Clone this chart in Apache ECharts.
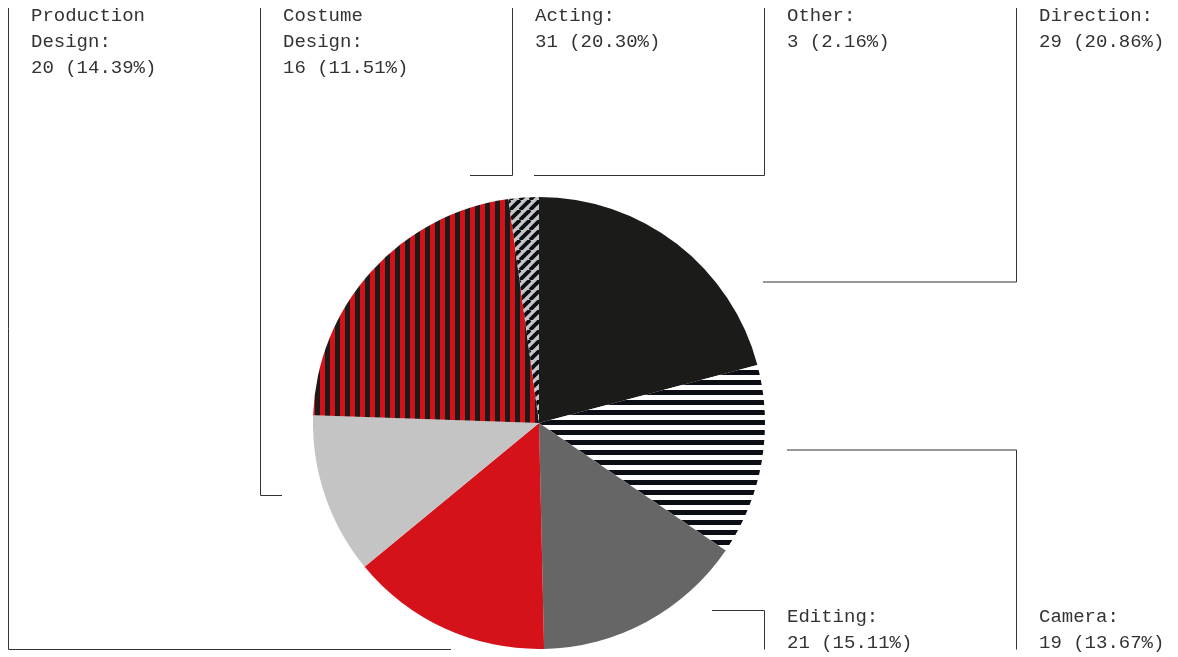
<!DOCTYPE html>
<html>
<head>
<meta charset="utf-8">
<script src="https://cdn.jsdelivr.net/npm/echarts@6/dist/echarts.min.js"></script>
<style>
  html, body { margin: 0; padding: 0; background: #fff; }
  #myChart { width: 1178px; height: 657px; }
</style>
</head>
<body>
<div id="myChart"></div>
<script>
// data, clockwise from 12 o'clock
var names = ["Direction", "Camera", "Editing", "Production Design", "Costume Design", "Acting", "Other"];
var values = [29, 19, 21, 20, 16, 31, 3];
// percent text as printed on the chart
var percentLabels = ["20.86%", "13.67%", "15.11%", "14.39%", "11.51%", "20.30%", "2.16%"];

// label slots: column in the grid, row (top/bottom), where the leader line ends near the pie
var slots = [
  { col: 4, row: "top", anchor: [763, 282] },
  { col: 4, row: "bottom", anchor: [787, 450] },
  { col: 3, row: "bottom", anchor: [712, 610.5] },
  { col: 0, row: "top", anchor: [451, 649.5] },
  { col: 1, row: "top", anchor: [282, 495.5] },
  { col: 2, row: "top", anchor: [470, 175.5] },
  { col: 3, row: "top", anchor: [534, 175.5] }
];

// stripe tiles
function tile(w, h, draw) {
  var c = document.createElement("canvas");
  c.width = w; c.height = h;
  draw(c.getContext("2d"), w, h);
  return { image: c, repeat: "repeat" };
}
var hStripes = tile(10, 10, function (ctx) {
  ctx.fillStyle = "#ffffff"; ctx.fillRect(0, 0, 10, 10);
  ctx.fillStyle = "#0c0e16"; ctx.fillRect(0, 0, 10, 5);
});
var vStripes = tile(10, 10, function (ctx) {
  ctx.fillStyle = "#1b1b19"; ctx.fillRect(0, 0, 10, 10);
  ctx.fillStyle = "#d5111a"; ctx.fillRect(0, 0, 5, 10);
});
var dStripes = tile(10, 10, function (ctx, s) {
  ctx.fillStyle = "#c6c6c6"; ctx.fillRect(0, 0, s, s);
  ctx.strokeStyle = "#0c0e16"; ctx.lineWidth = 3.8;
  for (var k = -1; k <= 1; k++) {
    ctx.beginPath();
    ctx.moveTo(k * s, s); ctx.lineTo(k * s + s, 0);
    ctx.stroke();
  }
});
var fills = ["#1b1b19", hStripes, "#666666", "#d5111a", "#c4c4c4", vStripes, dStripes];

var myChart = echarts.init(document.getElementById("myChart"));

var pieData = names.map(function (n, i) {
  return { name: n, value: values[i], itemStyle: { color: fills[i] } };
});

myChart.setOption({
  animation: false,
  series: [
    {
      type: "pie",
      center: [539, 423],
      radius: 226,
      startAngle: 90,
      clockwise: true,
      avoidLabelOverlap: false,
      data: pieData,
      itemStyle: { borderWidth: 0 },
      label: {
        show: true,
        position: "outside",
        formatter: function (p) {
          return p.name + ":\n" + p.value + " (" + percentLabels[p.dataIndex] + ")";
        },
        fontFamily: "Liberation Mono",
        fontSize: 19,
        lineHeight: 26,
        color: "#333",
        width: 160,
        overflow: "break"
      },
      labelLine: {
        show: true,
        lineStyle: { color: "#333", width: 1 }
      },
      labelLayout: function (params) {
        var s = slots[params.dataIndex];
        var lineX = 8.5 + 252 * s.col;
        var edgeY = s.row === "top" ? 8 : 649.5;
        return {
          x: lineX + 22.5,
          y: s.row === "top" ? 3 : 604,
          align: "left",
          verticalAlign: "top",
          labelLinePoints: [
            [s.anchor[0], s.anchor[1]],
            [lineX, s.anchor[1]],
            [lineX, edgeY]
          ]
        };
      },
      emphasis: { disabled: true }
    }
  ]
});
</script>
</body>
</html>
